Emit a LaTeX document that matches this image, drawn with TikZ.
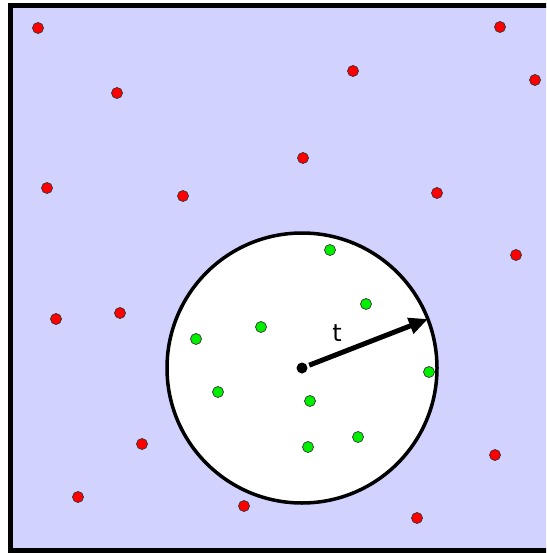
\documentclass[tikz,border=0pt]{standalone}
\usepackage{fontspec}
\setsansfont{DejaVu Sans}
\usetikzlibrary{arrows.meta}
\definecolor{bgfill}{RGB}{210,210,255}
\definecolor{reddot}{RGB}{255,0,0}
\definecolor{greendot}{RGB}{0,240,0}
\tikzset{
  rdot/.style={circle,draw=black!80,line width=0.7pt,fill=reddot,minimum size=11pt,inner sep=0pt},
  gdot/.style={circle,draw=black!80,line width=0.7pt,fill=greendot,minimum size=11pt,inner sep=0pt},
}
\begin{document}
\begin{tikzpicture}[x=1pt,y=-1pt]
\useasboundingbox (0,0) rectangle (546,553);
\begin{scope}
\clip (0,0) rectangle (546,553);
\draw[line width=5pt,fill=bgfill] (10,6) rectangle (556,550);
\end{scope}
\draw[line width=3.5pt,fill=white] (302,368) circle (135);
\foreach \i/\x/\y in {1/38/28,2/500/27,3/353/71,4/535/80,5/117/93,6/303/158,7/47/188,8/183/196,9/437/193,10/516/255,11/56/319,12/120/313,13/142/444,14/495/455,15/78/497,16/244/506,17/417/518}
  \node[rdot] (r\i) at (\x,\y) {};
\foreach \i/\x/\y in {1/330/250,2/366/304,3/196/339,4/261/327,5/429/372,6/218/392,7/310/401,8/358/437,9/308/447}
  \node[gdot] (g\i) at (\x,\y) {};
\node[circle,fill=black,minimum size=11pt,inner sep=0pt] (c) at (302,368) {};
\coordinate (e) at (428,319);
\draw[line width=5pt,shorten <=2pt,-{Triangle[length=19pt,width=16pt]}] (c) -- (e);
\node[font=\sffamily\fontsize{24}{28}\selectfont] (t) at (337,333) {t};
\end{tikzpicture}
\end{document}
